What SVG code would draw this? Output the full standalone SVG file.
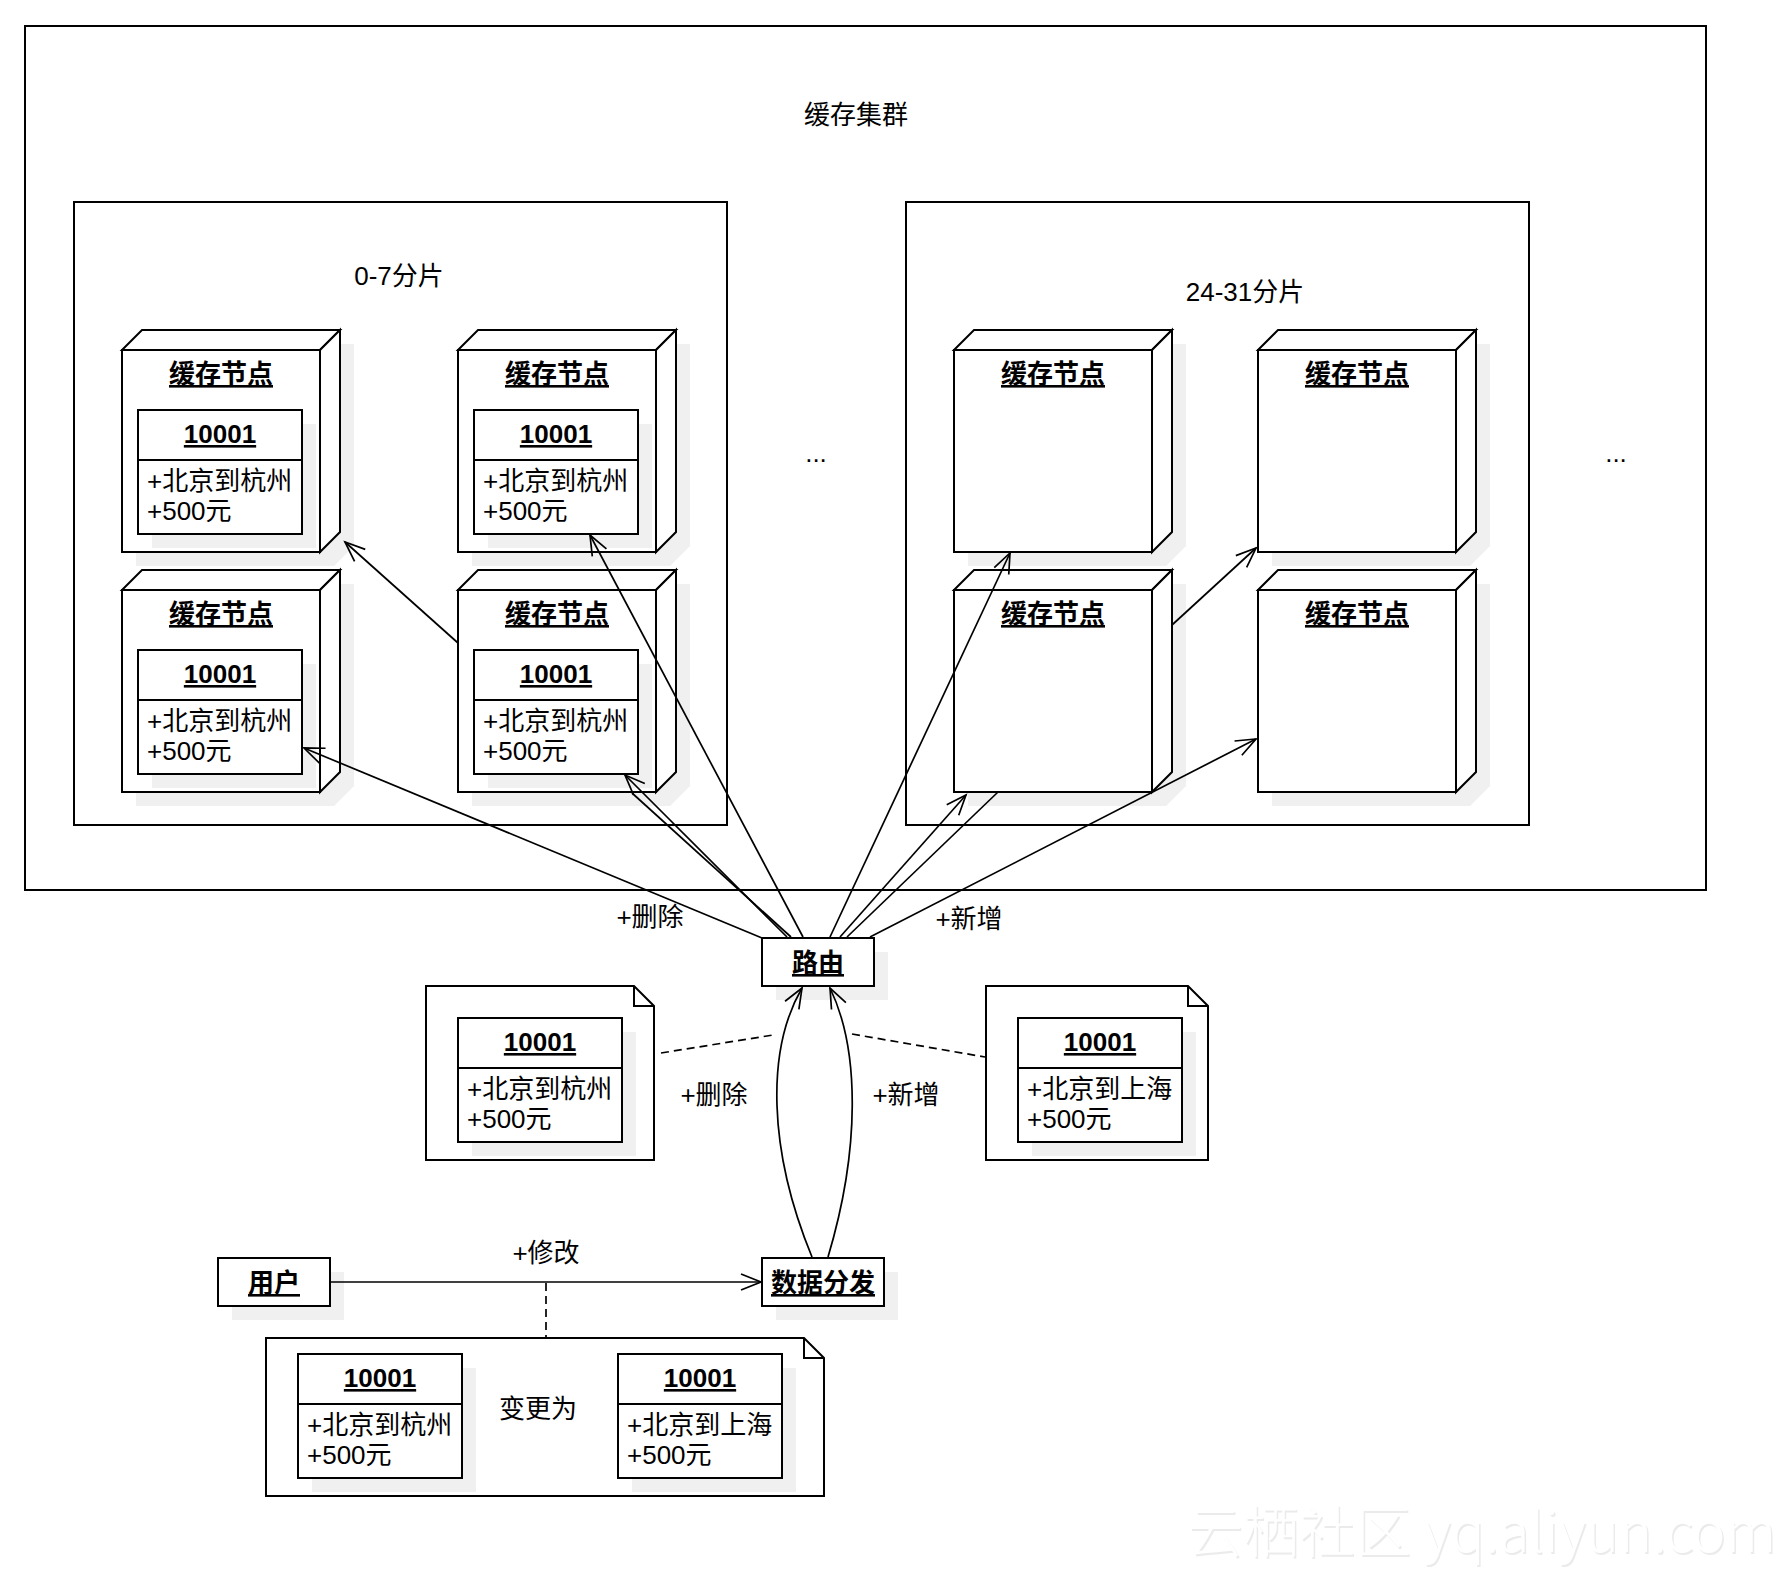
<svg xmlns="http://www.w3.org/2000/svg" width="1786" height="1572" viewBox="0 0 1786 1572">
<style>
.box{fill:#fff;stroke:#000;stroke-width:2}
.frame{fill:none;stroke:#000;stroke-width:2}
.sh{fill:#f0f0f0;stroke:none}
.conn{fill:none;stroke:#000;stroke-width:1.7}
.dash{fill:none;stroke:#000;stroke-width:1.7;stroke-dasharray:8 5}
text{font-family:"Liberation Sans","Noto Sans CJK SC",sans-serif;font-size:26px;fill:#000}
.b{font-weight:bold;text-decoration:underline}
.m{text-anchor:middle}
.wm{font-family:"Noto Sans CJK SC","Liberation Sans",sans-serif;font-size:56px;font-weight:300}
</style>
<defs>
<marker id="arr" markerUnits="userSpaceOnUse" markerWidth="30" markerHeight="30" viewBox="-25 -15 30 30" refX="0" refY="0" orient="auto" overflow="visible">
<path d="M-20,-8 L0,0 L-20,8" fill="none" stroke="#000" stroke-width="1.7"/>
</marker>
</defs>
<rect width="1786" height="1572" fill="#fff"/>

<g id="cluster">
<rect x="25" y="26" width="1681" height="864" class="frame"/>
<text x="856" y="124" class="m">缓存集群</text>
</g>
<g id="shard-0-7">
<rect x="74" y="202" width="653" height="623" class="frame"/>
<text x="399" y="285" class="m">0-7分片</text>
</g>
<g id="shard-24-31">
<rect x="906" y="202" width="623" height="623" class="frame"/>
<text x="1245" y="301" class="m">24-31分片</text>
</g>
<text x="816" y="462" class="m">...</text>
<text x="1616" y="462" class="m">...</text>

<g id="node-a">
<polygon class="sh" points="136,364 156,344 354,344 354,546 334,566 136,566"/>
<rect x="122" y="350" width="198" height="202" class="box"/>
<polygon class="box" points="122,350 142,330 340,330 320,350"/>
<polygon class="box" points="320,350 340,330 340,532 320,552"/>
<text x="221" y="383" class="b m">缓存节点</text>
<rect x="152" y="424" width="164" height="124" class="sh"/>
<rect x="138" y="410" width="164" height="124" class="box"/>
<line x1="138" y1="460" x2="302" y2="460" class="frame"/>
<text x="220" y="443" class="b m">10001</text>
<text x="147" y="490">+北京到杭州</text>
<text x="147" y="520">+500元</text>
</g>

<g id="node-b">
<polygon class="sh" points="472,364 492,344 690,344 690,546 670,566 472,566"/>
<rect x="458" y="350" width="198" height="202" class="box"/>
<polygon class="box" points="458,350 478,330 676,330 656,350"/>
<polygon class="box" points="656,350 676,330 676,532 656,552"/>
<text x="557" y="383" class="b m">缓存节点</text>
<rect x="488" y="424" width="164" height="124" class="sh"/>
<rect x="474" y="410" width="164" height="124" class="box"/>
<line x1="474" y1="460" x2="638" y2="460" class="frame"/>
<text x="556" y="443" class="b m">10001</text>
<text x="483" y="490">+北京到杭州</text>
<text x="483" y="520">+500元</text>
</g>

<g id="node-c">
<polygon class="sh" points="136,604 156,584 354,584 354,786 334,806 136,806"/>
<rect x="122" y="590" width="198" height="202" class="box"/>
<polygon class="box" points="122,590 142,570 340,570 320,590"/>
<polygon class="box" points="320,590 340,570 340,772 320,792"/>
<text x="221" y="623" class="b m">缓存节点</text>
<rect x="152" y="664" width="164" height="124" class="sh"/>
<rect x="138" y="650" width="164" height="124" class="box"/>
<line x1="138" y1="700" x2="302" y2="700" class="frame"/>
<text x="220" y="683" class="b m">10001</text>
<text x="147" y="730">+北京到杭州</text>
<text x="147" y="760">+500元</text>
</g>

<g id="node-d">
<polygon class="sh" points="472,604 492,584 690,584 690,786 670,806 472,806"/>
<rect x="458" y="590" width="198" height="202" class="box"/>
<polygon class="box" points="458,590 478,570 676,570 656,590"/>
<polygon class="box" points="656,590 676,570 676,772 656,792"/>
<text x="557" y="623" class="b m">缓存节点</text>
<rect x="488" y="664" width="164" height="124" class="sh"/>
<rect x="474" y="650" width="164" height="124" class="box"/>
<line x1="474" y1="700" x2="638" y2="700" class="frame"/>
<text x="556" y="683" class="b m">10001</text>
<text x="483" y="730">+北京到杭州</text>
<text x="483" y="760">+500元</text>
</g>

<g id="node-e">
<polygon class="sh" points="968,364 988,344 1186,344 1186,546 1166,566 968,566"/>
<rect x="954" y="350" width="198" height="202" class="box"/>
<polygon class="box" points="954,350 974,330 1172,330 1152,350"/>
<polygon class="box" points="1152,350 1172,330 1172,532 1152,552"/>
<text x="1053" y="383" class="b m">缓存节点</text>
</g>
<g id="node-f">
<polygon class="sh" points="1272,364 1292,344 1490,344 1490,546 1470,566 1272,566"/>
<rect x="1258" y="350" width="198" height="202" class="box"/>
<polygon class="box" points="1258,350 1278,330 1476,330 1456,350"/>
<polygon class="box" points="1456,350 1476,330 1476,532 1456,552"/>
<text x="1357" y="383" class="b m">缓存节点</text>
</g>
<g id="node-g">
<polygon class="sh" points="968,604 988,584 1186,584 1186,786 1166,806 968,806"/>
<rect x="954" y="590" width="198" height="202" class="box"/>
<polygon class="box" points="954,590 974,570 1172,570 1152,590"/>
<polygon class="box" points="1152,590 1172,570 1172,772 1152,792"/>
<text x="1053" y="623" class="b m">缓存节点</text>
</g>
<g id="node-h">
<polygon class="sh" points="1272,604 1292,584 1490,584 1490,786 1470,806 1272,806"/>
<rect x="1258" y="590" width="198" height="202" class="box"/>
<polygon class="box" points="1258,590 1278,570 1476,570 1456,590"/>
<polygon class="box" points="1456,590 1476,570 1476,772 1456,792"/>
<text x="1357" y="623" class="b m">缓存节点</text>
</g>

<g id="router">
<rect x="776" y="952" width="112" height="48" class="sh"/>
<rect x="762" y="938" width="112" height="48" class="box"/>
<text x="818" y="972" class="b m">路由</text>
</g>

<g id="note-delete">
<path d="M426,986 H634 L654,1006 V1160 H426 Z" class="box"/>
<path d="M634,986 V1006 H654" class="frame"/>
<rect x="472" y="1032" width="164" height="124" class="sh"/>
<rect x="458" y="1018" width="164" height="124" class="box"/>
<line x1="458" y1="1068" x2="622" y2="1068" class="frame"/>
<text x="540" y="1051" class="b m">10001</text>
<text x="467" y="1098">+北京到杭州</text>
<text x="467" y="1128">+500元</text>
</g>

<g id="note-add">
<path d="M986,986 H1188 L1208,1006 V1160 H986 Z" class="box"/>
<path d="M1188,986 V1006 H1208" class="frame"/>
<rect x="1032" y="1032" width="164" height="124" class="sh"/>
<rect x="1018" y="1018" width="164" height="124" class="box"/>
<line x1="1018" y1="1068" x2="1182" y2="1068" class="frame"/>
<text x="1100" y="1051" class="b m">10001</text>
<text x="1027" y="1098">+北京到上海</text>
<text x="1027" y="1128">+500元</text>
</g>

<g id="user">
<rect x="232" y="1272" width="112" height="48" class="sh"/>
<rect x="218" y="1258" width="112" height="48" class="box"/>
<text x="274" y="1292" class="b m">用户</text>
</g>

<g id="dispatch">
<rect x="776" y="1272" width="122" height="48" class="sh"/>
<rect x="762" y="1258" width="122" height="48" class="box"/>
<text x="823" y="1292" class="b m">数据分发</text>
</g>

<g id="note-change">
<path d="M266,1338 H804 L824,1358 V1496 H266 Z" class="box"/>
<path d="M804,1338 V1358 H824" class="frame"/>
<rect x="312" y="1368" width="164" height="124" class="sh"/>
<rect x="298" y="1354" width="164" height="124" class="box"/>
<line x1="298" y1="1404" x2="462" y2="1404" class="frame"/>
<text x="380" y="1387" class="b m">10001</text>
<text x="307" y="1434">+北京到杭州</text>
<text x="307" y="1464">+500元</text>
<text x="538" y="1418" class="m">变更为</text>
<rect x="632" y="1368" width="164" height="124" class="sh"/>
<rect x="618" y="1354" width="164" height="124" class="box"/>
<line x1="618" y1="1404" x2="782" y2="1404" class="frame"/>
<text x="700" y="1387" class="b m">10001</text>
<text x="627" y="1434">+北京到上海</text>
<text x="627" y="1464">+500元</text>
</g>

<g id="connectors">
<path class="conn" d="M762,938 L304,748" marker-end="url(#arr)"/>
<path class="conn" d="M787,937 L625,775" marker-end="url(#arr)"/>
<path class="conn" d="M791,937 L632,793"/>
<path class="conn" d="M803,937 L590,535" marker-end="url(#arr)"/>
<path class="conn" d="M830,937 L1010,553" marker-end="url(#arr)"/>
<path class="conn" d="M840,937 L966,795" marker-end="url(#arr)"/>
<path class="conn" d="M847,937 L998,792"/>
<path class="conn" d="M870,937 L1256,739" marker-end="url(#arr)"/>
<path class="conn" d="M458,643 L345,542" marker-end="url(#arr)"/>
<path class="conn" d="M1172,625 L1256,548" marker-end="url(#arr)"/>
<path class="conn" d="M812,1257 C768,1150 766,1050 802,988" marker-end="url(#arr)"/>
<path class="conn" d="M828,1257 C860,1150 860,1050 830,988" marker-end="url(#arr)"/>
<path class="conn" d="M330,1282 L761,1282" marker-end="url(#arr)"/>
<path class="dash" d="M661,1053 L773,1035"/>
<path class="dash" d="M852,1034 L985,1057"/>
<path class="dash" d="M546,1283 L546,1338"/>
<text x="650" y="926" class="m">+删除</text>
<text x="969" y="928" class="m">+新增</text>
<text x="714" y="1104" class="m">+删除</text>
<text x="906" y="1104" class="m">+新增</text>
<text x="546" y="1262" class="m">+修改</text>
</g>

<g id="watermark">
<text x="1188.5" y="1553.5" class="wm" style="fill:#ebebeb">云栖社区 yq.aliyun.com</text>
<text x="1187" y="1552" class="wm" style="fill:#ffffff">云栖社区 yq.aliyun.com</text>
</g>
</svg>
